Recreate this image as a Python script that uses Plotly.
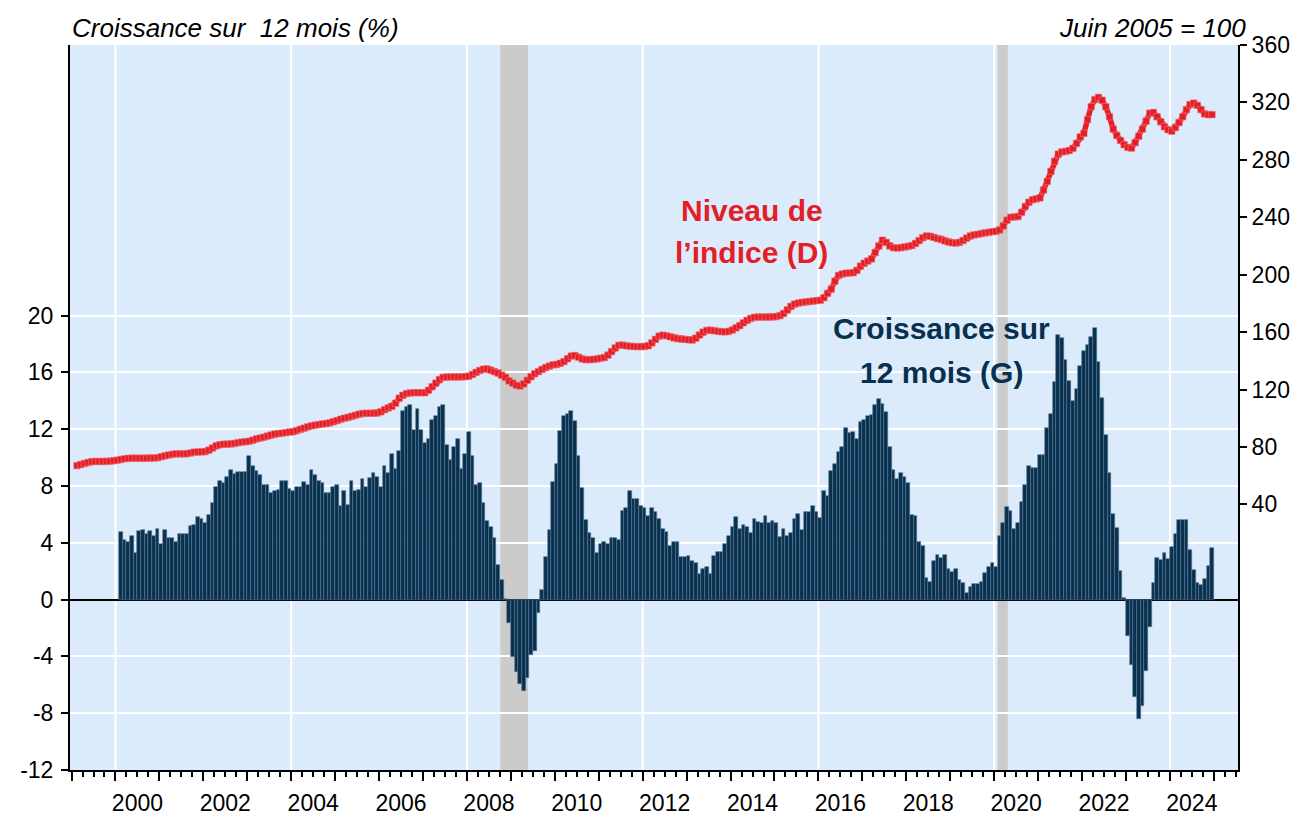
import plotly.graph_objects as go

# ---------------- DATA ----------------
# 12-month growth (%), monthly, Feb 2000 -> Dec 2024 (left axis)
growth_2000 = [4.74, 4.23, 4.05, 4.5, 3.31, 4.8, 4.87, 4.64, 4.8, 4.5, 4.94]  # Feb-Dec
growth_2001 = [3.9, 4.87, 4.34, 4.34, 4.05, 4.64, 4.64, 4.64, 5.2, 5.26, 5.84, 5.7]
growth_2002 = [5.4, 5.98, 6.8, 7.9, 8.37, 8.23, 8.64, 9.1, 8.87, 9.0, 9.0, 9.0]
growth_2003 = [10.14, 9.4, 9.06, 8.78, 8.1, 8.1, 7.5, 7.63, 7.7, 8.37, 8.37, 7.77]
growth_2004 = [7.63, 7.9, 7.9, 8.28, 8.1, 9.1, 8.8, 8.34, 8.23, 7.47, 7.54, 7.9]
growth_2005 = [8.1, 6.57, 7.63, 6.67, 8.35, 7.66, 7.75, 8.5, 7.9, 8.58, 8.94, 8.65]
growth_2006 = [7.9, 9.38, 8.94, 10.28, 9.2, 10.44, 13.26, 13.53, 13.69, 11.93, 13.44, 11.93]
growth_2007 = [11.03, 11.33, 12.68, 12.96, 13.53, 13.69, 10.87, 9.84, 10.76, 11.33, 9.17, 10.28]
growth_2008 = [11.77, 10.14, 8.07, 8.21, 6.79, 5.53, 5.11, 4.33, 2.43, 1.38, 0.05, -1.63]
growth_2009 = [-4.04, -5.09, -5.96, -6.44, -5.55, -3.9, -3.6, -0.94, 0.64, 2.98, 4.93, 8.28]
growth_2010 = [9.54, 11.9, 12.96, 13.1, 13.26, 12.57, 10.11, 7.89, 5.57, 4.67, 4.37, 3.26]
growth_2011 = [3.93, 4.07, 3.93, 4.37, 4.37, 4.2, 6.24, 6.45, 7.65, 7.07, 7.07, 6.61]
growth_2012 = [6.45, 5.87, 6.45, 6.15, 5.69, 4.95, 4.74, 3.77, 4.07, 4.07, 3.0, 3.0]
growth_2013 = [3.05, 2.7, 2.57, 1.83, 2.13, 2.27, 1.83, 3.1, 3.33, 3.33, 3.93, 4.5]
growth_2014 = [5.11, 5.78, 4.95, 5.27, 5.11, 4.67, 5.69, 5.48, 5.41, 5.87, 5.41, 5.55]
growth_2015 = [5.41, 4.44, 4.95, 4.5, 4.67, 5.69, 6.01, 4.88, 6.15, 6.15, 6.59, 6.15]
growth_2016 = [5.71, 7.65, 7.28, 9.08, 9.54, 10.41, 10.73, 12.06, 11.72, 11.77, 11.3, 12.5]
growth_2017 = [12.66, 12.96, 13.03, 13.72, 14.13, 13.78, 13.23, 10.76, 9.1, 8.51, 8.92, 8.62]
growth_2018 = [8.23, 5.96, 5.92, 4.04, 3.74, 1.51, 1.24, 2.73, 3.17, 2.96, 3.17, 2.13]
growth_2019 = [1.97, 2.13, 1.4, 1.17, 0.48, 0.92, 1.1, 1.1, 1.24, 1.9, 2.27, 2.57]
growth_2020 = [2.27, 4.5, 5.39, 6.49, 6.26, 4.95, 5.39, 6.9, 8.05, 9.38, 9.24, 9.24]
growth_2021 = [10.16, 10.16, 12.06, 13.1, 15.3, 18.6, 18.4, 16.9, 15.4, 13.95, 14.8, 16.45]
growth_2022 = [17.5, 17.9, 18.5, 19.1, 16.7, 14.2, 11.59, 8.89, 6.05, 5.01, 2.0, 0.12]
growth_2023 = [-2.54, -4.62, -6.88, -8.38, -7.5, -5.03, -1.94, 1.15, 2.93, 2.82, 3.28, 2.88]
growth_2024 = [3.69, 4.59, 5.63, 5.63, 5.63, 3.46, 2.08, 1.15, 1.02, 1.43, 2.35, 3.62]
growth_start = (2000, 2)

# Index level (June 2005 = 100), monthly, Feb 1999 -> Dec 2024 (right axis)
index_1999 = [67.0, 67.8, 68.5, 69.2, 69.8, 69.9, 69.9, 69.9, 70.0, 70.1, 70.4]  # Feb-Dec
index_2000 = [70.8, 71.3, 71.8, 72.1, 72.2, 72.2, 72.2, 72.2, 72.2, 72.3, 72.3, 72.5]
index_2001 = [73.2, 73.8, 74.4, 74.9, 75.2, 75.2, 75.2, 75.3, 75.8, 76.4, 76.5, 76.6]
index_2002 = [76.8, 77.8, 79.3, 80.8, 81.5, 81.9, 82.0, 82.1, 82.4, 83.0, 83.4, 83.6]
index_2003 = [84.0, 84.7, 85.6, 86.2, 86.8, 87.6, 88.3, 89.0, 89.3, 89.6, 90.0, 90.4]
index_2004 = [90.6, 91.4, 92.3, 93.1, 94.0, 94.7, 95.2, 95.6, 96.0, 96.3, 96.8, 97.6]
index_2005 = [98.4, 99.3, 100.0, 100.6, 101.3, 102.0, 102.8, 103.3, 103.5, 103.5, 103.5, 103.7]
index_2006 = [104.5, 106.0, 107.2, 108.3, 110.5, 114.0, 116.0, 117.2, 117.6, 117.8, 117.8, 117.8]
index_2007 = [117.8, 119.5, 122.0, 124.5, 127.0, 128.5, 128.7, 128.8, 128.8, 128.8, 128.8, 129.0]
index_2008 = [129.3, 130.5, 132.0, 133.3, 134.2, 134.4, 133.5, 132.5, 131.5, 130.0, 128.5, 126.0]
index_2009 = [124.5, 123.0, 122.5, 124.0, 126.5, 129.0, 131.0, 132.5, 134.0, 135.3, 136.3, 137.2]
index_2010 = [137.5, 138.3, 139.5, 141.5, 143.3, 143.7, 142.5, 141.3, 140.8, 140.8, 141.0, 141.3]
index_2011 = [141.8, 142.3, 144.0, 146.5, 149.0, 150.8, 151.0, 150.5, 150.2, 150.0, 149.9, 149.9]
index_2012 = [150.0, 150.5, 152.5, 155.0, 157.2, 157.9, 157.5, 156.8, 156.0, 155.5, 155.2, 155.0]
index_2013 = [154.7, 154.5, 155.8, 158.0, 160.0, 161.2, 161.4, 161.0, 160.6, 160.3, 160.2, 160.5]
index_2014 = [161.5, 163.0, 164.5, 166.5, 168.2, 169.5, 170.3, 170.5, 170.5, 170.5, 170.5, 170.6]
index_2015 = [170.8, 171.5, 173.0, 175.5, 178.0, 179.5, 180.2, 180.7, 181.0, 181.3, 181.6, 181.9]
index_2016 = [182.2, 184.0, 187.0, 190.0, 195.5, 199.5, 200.5, 201.0, 201.2, 201.4, 203.0, 206.0]
index_2017 = [208.0, 209.5, 211.0, 215.5, 220.0, 224.0, 222.5, 220.0, 218.8, 218.6, 218.8, 219.3]
index_2018 = [219.7, 220.3, 221.8, 223.8, 225.8, 227.0, 226.8, 226.0, 225.2, 224.6, 223.6, 222.8]
index_2019 = [222.3, 222.0, 222.5, 223.8, 225.5, 227.0, 227.7, 228.1, 228.6, 229.1, 229.5, 229.9]
index_2020 = [230.2, 231.2, 234.0, 238.0, 240.0, 240.2, 240.5, 243.5, 247.5, 250.5, 252.2, 252.8]
index_2021 = [253.5, 259.0, 265.0, 272.0, 279.0, 284.0, 285.5, 285.9, 286.5, 288.0, 291.5, 296.0]
index_2022 = [298.5, 308.0, 317.0, 322.0, 323.5, 321.5, 317.0, 310.0, 301.5, 297.0, 293.5, 290.5]
index_2023 = [288.7, 288.2, 292.0, 296.5, 301.5, 307.0, 312.5, 313.0, 310.0, 306.5, 303.0, 301.0]
index_2024 = [300.0, 302.5, 306.0, 310.0, 315.0, 318.5, 319.5, 318.0, 315.0, 312.0, 311.5, 311.5]
index_start = (1999, 2)

# Recession periods (decimal years)
recession_starts = [2008.76, 2020.08]
recession_ends = [2009.39, 2020.31]

# Axis ticks
year_label_values = [2000, 2002, 2004, 2006, 2008, 2010, 2012, 2014, 2016, 2018, 2020, 2022, 2024]
grid_years = [2000, 2004, 2008, 2012, 2016, 2020, 2024]
left_ticks = [-12, -8, -4, 0, 4, 8, 12, 16, 20]
right_ticks = [40, 80, 120, 160, 200, 240, 280, 320, 360]

# ---------------- BUILD ----------------
growth = (growth_2000 + growth_2001 + growth_2002 + growth_2003 + growth_2004 + growth_2005 +
          growth_2006 + growth_2007 + growth_2008 + growth_2009 + growth_2010 + growth_2011 +
          growth_2012 + growth_2013 + growth_2014 + growth_2015 + growth_2016 + growth_2017 +
          growth_2018 + growth_2019 + growth_2020 + growth_2021 + growth_2022 + growth_2023 +
          growth_2024)
index_level = (index_1999 + index_2000 + index_2001 + index_2002 + index_2003 + index_2004 +
               index_2005 + index_2006 + index_2007 + index_2008 + index_2009 + index_2010 +
               index_2011 + index_2012 + index_2013 + index_2014 + index_2015 + index_2016 +
               index_2017 + index_2018 + index_2019 + index_2020 + index_2021 + index_2022 +
               index_2023 + index_2024)


def month_centres(start, n):
    y, m = start
    out = []
    for _ in range(n):
        out.append(y + (m - 0.5) / 12.0)
        m += 1
        if m > 12:
            m = 1
            y += 1
    return out


growth_x = month_centres(growth_start, len(growth))
index_x = month_centres(index_start, len(index_level))

FONT = "Liberation Sans, Arial, sans-serif"
NAVY = "#08304f"
RED = "#e31e26"
XR = [1998.965, 2025.55]
TICKFONT = dict(family=FONT, size=23, color="black")

fig = go.Figure()
fig.add_trace(go.Bar(
    x=growth_x, y=growth, width=1 / 12, xaxis="x", yaxis="y",
    marker=dict(color=NAVY, line=dict(color="#557790", width=0.6)),
))
fig.add_trace(go.Scatter(
    x=index_x, y=index_level, xaxis="x2", yaxis="y2", mode="lines+markers",
    line=dict(color=RED, width=5.5),
    marker=dict(symbol="square", size=6.5, color=RED,
                line=dict(color="#f27377", width=0.6)),
))

# vertical grid every 4 years
for g in grid_years:
    fig.add_shape(type="line", xref="x", yref="paper", x0=g, x1=g, y0=0, y1=1,
                  line=dict(color="white", width=2), layer="between")
# recession shading
for s, e in zip(recession_starts, recession_ends):
    fig.add_shape(type="rect", xref="x", yref="paper", x0=s, x1=e, y0=0, y1=1,
                  fillcolor="#cbcbcb", line=dict(width=0), layer="between")

# page body adds an 8px offset: figure is 8px smaller and margins compensate
fig.update_layout(
    width=1294, height=820,
    margin=dict(l=52, r=60, t=37, b=47),
    paper_bgcolor="white", plot_bgcolor="#dcebfb",
    bargap=0, showlegend=False,
    font=dict(family=FONT, size=23, color="black"),
    xaxis=dict(range=XR, tickmode="linear", tick0=2000, dtick=1,
               ticks="outside", ticklen=9, tickwidth=1.5, tickcolor="black",
               showticklabels=False, showgrid=False, zeroline=False,
               showline=True, linecolor="black", linewidth=2,
               minor=dict(tickmode="linear", tick0=2000, dtick=0.25, ticks="outside",
                          ticklen=5, tickwidth=1.5, tickcolor="black", showgrid=False)),
    xaxis2=dict(overlaying="x", anchor="y2", side="bottom", range=XR, tickmode="array",
                tickvals=[v + 0.5 for v in year_label_values],
                ticktext=[str(v) for v in year_label_values],
                ticks="outside", ticklen=12, tickcolor="rgba(0,0,0,0)",
                showgrid=False, zeroline=False, showline=False, tickfont=TICKFONT),
    yaxis=dict(range=[-12, 39.05], tickmode="array", tickvals=left_ticks,
               ticktext=[str(v) for v in left_ticks],
               showgrid=True, gridcolor="white", gridwidth=2,
               zeroline=True, zerolinecolor="black", zerolinewidth=2,
               ticks="outside", ticklen=7, tickwidth=1.5, tickcolor="black",
               ticklabelstandoff=3,
               showline=True, linecolor="black", linewidth=2, tickfont=TICKFONT),
    yaxis2=dict(overlaying="y", side="right", anchor="x2", range=[-145, 360], tickmode="array",
                tickvals=right_ticks, ticktext=[str(v) for v in right_ticks],
                showgrid=False, zeroline=False,
                ticks="outside", ticklen=7, tickwidth=1.5, tickcolor="black",
                showline=True, linecolor="black", linewidth=2, tickfont=TICKFONT),
)

# Titles
fig.add_annotation(text="<i>Croissance sur\u00a0 12 mois (%)</i>", xref="paper", yref="paper",
                   x=0, y=1.023, xanchor="left", yanchor="middle", showarrow=False,
                   font=dict(family=FONT, size=26, color="black"))
fig.add_annotation(text="<i>Juin 2005 = 100</i>", xref="paper", yref="paper",
                   x=1.0085, y=1.023, xanchor="right", yanchor="middle", showarrow=False,
                   font=dict(family=FONT, size=26, color="black"))

# Series labels
for txt, xp, yp, col in [("<b>Niveau de</b>", 0.5838, 0.7717, RED),
                         ("<b>l\u2019indice (D)</b>", 0.5838, 0.7133, RED),
                         ("<b>Croissance sur</b>", 0.7462, 0.6087, NAVY),
                         ("<b>12 mois (G)</b>", 0.7462, 0.5476, NAVY)]:
    fig.add_annotation(text=txt, xref="paper", yref="paper", x=xp, y=yp,
                       xanchor="center", yanchor="middle", showarrow=False,
                       font=dict(family=FONT, size=30, color=col))

fig.write_html("out.html")
